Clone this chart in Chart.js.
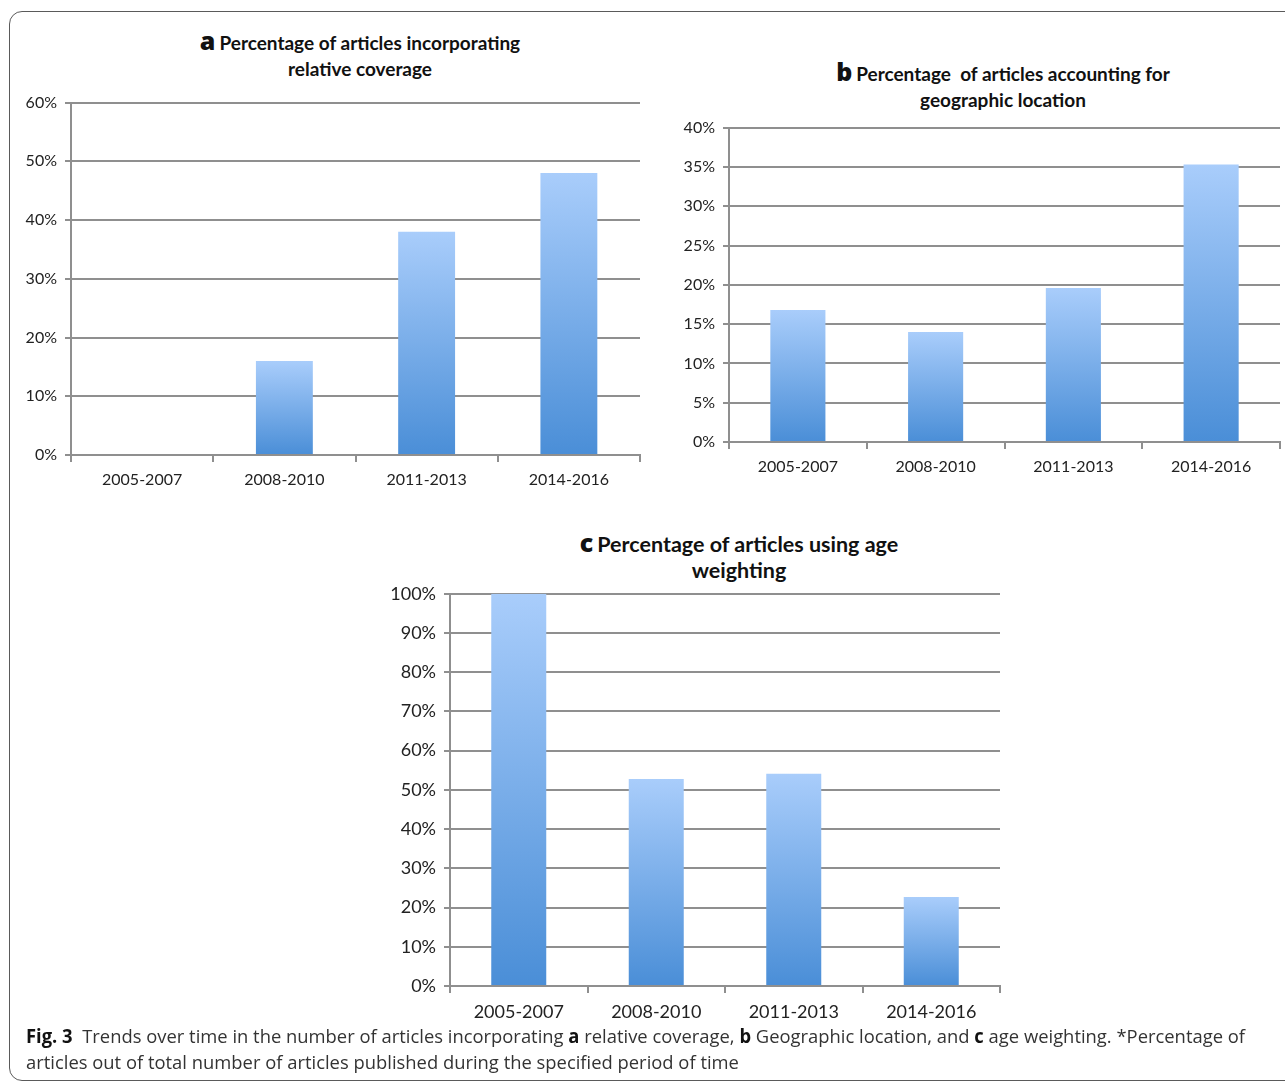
<!DOCTYPE html>
<html>
<head>
<meta charset="utf-8">
<script src="https://cdn.jsdelivr.net/npm/chart.js@4.4.1/dist/chart.umd.min.js"></script>
<style>
  body { margin: 0; background: #fff; width: 1285px; height: 1082px; overflow: hidden; position: relative; font-family: Lato, sans-serif; }
  .frame { position: absolute; left: 9px; top: 11px; width: 1300px; height: 1068px; border: 1.5px solid #5a5a5a; border-radius: 13px; }
  .box { position: absolute; }
  .title { position: absolute; text-align: center; font-family: Lato, sans-serif; font-weight: bold; font-size: 19px; line-height: 26px; color: #111; white-space: nowrap; }
  .title b { font-family: "Open Sans", sans-serif; font-weight: 800; font-size: 25px; margin-right: 4px; }
  .caption { position: absolute; left: 26px; top: 1023px; font-family: "Open Sans", sans-serif; font-size: 19px; line-height: 26px; color: #333; white-space: nowrap; transform-origin: left top; }
  .caption b { color: #111; }
</style>
</head>
<body>
<div class="frame"></div>

<div class="title" id="titleA" style="left:160px; top:27px; width:400px;"><b>a</b>Percentage of articles incorporating<br>relative coverage</div>
<div class="title" id="titleB" style="left:803px; top:58px; width:400px;"><b>b</b>Percentage&nbsp; of articles accounting for<br>geographic location</div>
<div class="title" id="titleC" style="left:539px; top:529px; width:400px; font-size:21.5px;"><b>c</b>Percentage of articles using age<br>weighting</div>

<div class="box" style="left:0px; top:85px; width:645px; height:410px;"><canvas id="chartA"></canvas></div>
<div class="box" style="left:650px; top:110px; width:635px; height:372px;"><canvas id="chartB"></canvas></div>
<div class="box" style="left:360px; top:575px; width:645px; height:451px;"><canvas id="chartC"></canvas></div>

<div class="caption" id="caption"><b>Fig. 3</b>&nbsp; Trends over time in the number of articles incorporating <b>a</b> relative coverage, <b>b</b> Geographic location, and <b>c</b> age weighting. *Percentage of<br>articles out of total number of articles published during the specified period of time</div>

<script>
// periods shared by all three panels
const periods = ['2005-2007', '2008-2010', '2011-2013', '2014-2016'];

// a: relative coverage (%)
const relativeCoverage = [0, 16, 38, 48];
// b: geographic location (%)
const geographicLocation = [16.8, 14.0, 19.6, 35.3];
// c: age weighting (%)
const ageWeighting = [100, 52.8, 54.1, 22.7];

const gridColor = '#8f8f8f';

function barGradient(context) {
    const chart = context.chart;
    const yScale = chart.scales.y;
    if (!yScale || !chart.chartArea) return '#7fb0ea';
    const value = context.dataset.data[context.dataIndex];
    const top = yScale.getPixelForValue(value);
    const bottom = yScale.getPixelForValue(0);
    if (!isFinite(top) || !isFinite(bottom) || top === bottom) return '#7fb0ea';
    const g = chart.ctx.createLinearGradient(0, top, 0, bottom);
    g.addColorStop(0, '#a9cdfb');
    g.addColorStop(1, '#4a8ed7');
    return g;
}

function makeChart(canvasId, values, yMax, yStep, yWidth, padTop, padRight, xHeight, fontSize) {
    const canvas = document.getElementById(canvasId);
    const ctx = canvas.getContext('2d');
    return new Chart(ctx, {
        type: 'bar',
        data: {
            labels: periods,
            datasets: [{
                data: values,
                backgroundColor: barGradient,
                borderWidth: 0,
                categoryPercentage: 1.0,
                barPercentage: 0.4
            }]
        },
        options: {
            responsive: true,
            maintainAspectRatio: false,
            animation: false,
            layout: { padding: { top: padTop, right: padRight, left: 0, bottom: 0 } },
            plugins: {
                legend: { display: false },
                tooltip: { enabled: false },
                title: { display: false }
            },
            scales: {
                x: {
                    grid: {
                        offset: true,
                        drawOnChartArea: false,
                        drawTicks: true,
                        tickLength: 7,
                        color: gridColor,
                        lineWidth: 2
                    },
                    border: { display: true, color: gridColor, width: 2 },
                    ticks: {
                        color: '#222',
                        padding: 8,
                        maxRotation: 0,
                        font: { family: 'Lato', size: fontSize }
                    },
                    afterFit: function (scale) { scale.height = xHeight; }
                },
                y: {
                    min: 0,
                    max: yMax,
                    grid: {
                        color: gridColor,
                        lineWidth: 2,
                        drawTicks: true,
                        tickLength: 6
                    },
                    border: { display: true, color: gridColor, width: 2 },
                    ticks: {
                        stepSize: yStep,
                        color: '#222',
                        padding: 8,
                        font: { family: 'Lato', size: fontSize },
                        callback: function (v) { return v + '%'; }
                    },
                    afterFit: function (scale) { scale.width = yWidth; }
                }
            }
        }
    });
}

makeChart('chartA', relativeCoverage, 60, 10, 71, 10, 5, 40, 16);
makeChart('chartB', geographicLocation, 40, 5, 79, 10, 5, 40, 16);
makeChart('chartC', ageWeighting, 100, 10, 90, 10, 5, 40, 18);

// squeeze the caption to the width of the printed caption
const cap = document.getElementById('caption');
const target = 1219;
const w = cap.getBoundingClientRect().width;
if (w > 0) cap.style.transform = 'scaleX(' + (target / w) + ')';
</script>
</body>
</html>
